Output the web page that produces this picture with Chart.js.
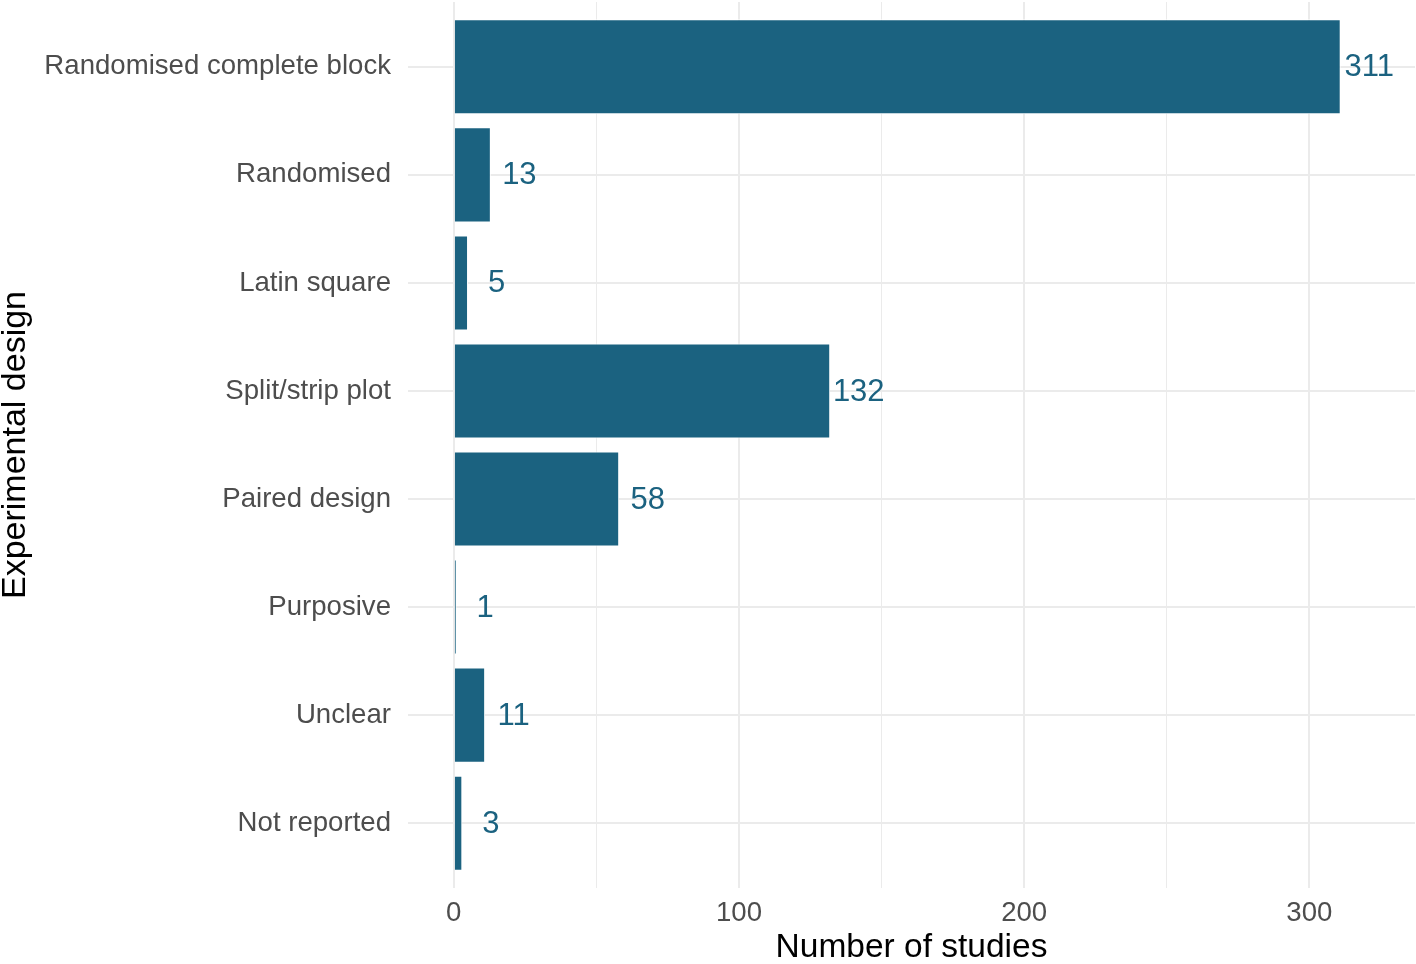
<!DOCTYPE html>
<html>
<head>
<meta charset="utf-8">
<title>Experimental design</title>
<script src="https://cdn.jsdelivr.net/npm/chart.js@4.4.1/dist/chart.umd.min.js"></script>
<style>
  html, body { margin: 0; padding: 0; background: #ffffff; }
  #wrap { width: 1416px; height: 964px; }
</style>
</head>
<body>
<div id="wrap"><canvas id="designChart" width="1416" height="964"></canvas></div>
<script>
const categories = [
  'Randomised complete block',
  'Randomised',
  'Latin square',
  'Split/strip plot',
  'Paired design',
  'Purposive',
  'Unclear',
  'Not reported'
];
const studies = [311, 13, 5, 132, 58, 1, 11, 3];
const xTicks = [0, 50, 100, 150, 200, 250, 300];

const barColor = '#1b6280';
const gridColor = '#ebebeb';

Chart.defaults.font.family = "'Liberation Sans', Arial, sans-serif";

// etiquetas de valor ao lado das barras
const valueLabels = {
  id: 'valueLabels',
  afterDatasetsDraw(chart) {
    const { ctx, scales } = chart;
    ctx.save();
    ctx.font = "31px 'Liberation Sans', Arial, sans-serif";
    ctx.fillStyle = barColor;
    ctx.textAlign = 'center';
    ctx.textBaseline = 'middle';
    studies.forEach((v, i) => {
      const x = scales.x.getPixelForValue(v + 10);
      const y = scales.y.getPixelForValue(i);
      ctx.fillText(String(v), x, y + 1);
    });
    ctx.restore();
  }
};

const ctx = document.getElementById('designChart').getContext('2d');
new Chart(ctx, {
  type: 'bar',
  data: {
    datasets: [{
      data: studies.map((v, i) => ({ x: v, y: i })),
      backgroundColor: barColor,
      borderColor: '#ffffff',
      borderWidth: 1,
      barPercentage: 0.88,
      categoryPercentage: 1
    }]
  },
  options: {
    indexAxis: 'y',
    responsive: false,
    animation: false,
    layout: { padding: { top: 2, right: 1, left: 0, bottom: 0 } },
    plugins: {
      legend: { display: false },
      tooltip: { enabled: false }
    },
    scales: {
      x: {
        type: 'linear',
        min: -16.05,
        max: 337.05,
        afterBuildTicks(scale) {
          scale.ticks = xTicks.map(v => ({ value: v }));
        },
        afterFit(scale) { scale.height = 76; },
        border: { display: false },
        grid: {
          color: gridColor,
          lineWidth: c => (c.tick && c.tick.value % 100 === 0 ? 2 : 1),
          drawTicks: false
        },
        ticks: {
          padding: 9,
          maxRotation: 0,
          autoSkip: false,
          color: '#4d4d4d',
          font: { size: 27.6 },
          callback: v => (v % 100 === 0 ? String(v) : '')
        },
        title: {
          display: true,
          text: 'Number of studies',
          color: '#000000',
          padding: 0,
          font: { size: 33.5, lineHeight: 0.95 }
        }
      },
      y: {
        type: 'linear',
        reverse: true,
        offset: false,
        min: -0.6,
        max: 7.6,
        afterBuildTicks(scale) {
          scale.ticks = categories.map((c, i) => ({ value: i }));
        },
        afterFit(scale) {
          scale.width = 408;
          scale.paddingTop = 0;
          scale.paddingBottom = 0;
        },
        border: { display: false },
        grid: {
          offset: false,
          color: gridColor,
          lineWidth: 2,
          drawTicks: false
        },
        ticks: {
          padding: 17,
          autoSkip: false,
          color: '#4d4d4d',
          font: { size: 27.6 },
          callback: v => categories[v]
        },
        title: {
          display: true,
          text: 'Experimental design',
          color: '#000000',
          padding: 0,
          font: { size: 34, lineHeight: 0.92 }
        }
      }
    }
  },
  plugins: [valueLabels]
});
</script>
</body>
</html>
